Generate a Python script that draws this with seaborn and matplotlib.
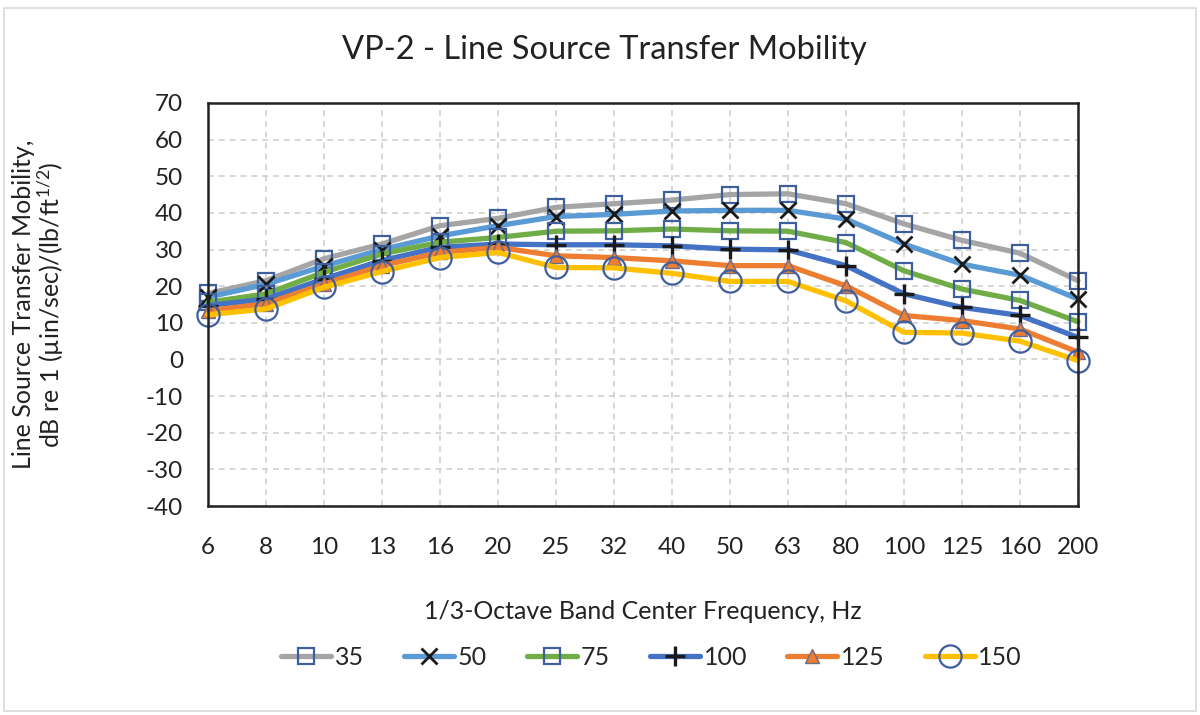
import pandas as pd
import seaborn as sns
import matplotlib.pyplot as plt
from matplotlib.patches import Rectangle

# valeurs (dB), une liste par serie
freqs = ['6', '8', '10', '13', '16', '20', '25', '32', '40', '50', '63', '80', '100', '125', '160', '200']
s35 = [18, 21.5, 27.5, 31.5, 36.5, 38.5, 41.5, 42.5, 43.5, 45, 45.2, 42.5, 37, 32.5, 29, 21.5]
s50 = [17, 20.5, 25.5, 30, 33.7, 36.5, 39, 39.6, 40.5, 40.7, 40.7, 38.3, 31.5, 26, 23, 16.5]
s75 = [15.6, 17.9, 23.8, 28.8, 32, 33.3, 35, 35.1, 35.6, 35.1, 35, 31.9, 24.2, 19.2, 16.1, 10.3]
s100 = [14.7, 16.5, 22, 27, 30.6, 31.5, 31.3, 31.3, 31, 30.1, 29.9, 25.6, 17.9, 14.2, 12, 6]
s125 = [13.3, 15.2, 20.6, 25.6, 29.2, 30.6, 28.3, 27.8, 26.9, 25.6, 25.6, 20.1, 12, 10.6, 8.3, 2]
s150 = [12.2, 13.8, 19.7, 24, 27.8, 29.2, 25.1, 25, 23.5, 21.3, 21.3, 16, 7.4, 7.2, 5, -0.3]
labels = ['35', '50', '75', '100', '125', '150']

series = [s35, s50, s75, s100, s125, s150]
colors = ['#A5A5A5', '#5B9BD5', '#70AD47', '#4472C4', '#ED7D31', '#FFC000']
mk_edge = '#3F5E9C'
# (marker, taille, face, bord, epaisseur bord)
markers = [
    ('s', 12, 'none', mk_edge, 1.6),
    ('x', 12, 'none', '#1A1A1A', 2.0),
    ('s', 12, 'none', mk_edge, 1.6),
    ('+', 15, 'none', '#1A1A1A', 2.4),
    ('^', 10, '#ED7D31', '#6B6B8A', 1.0),
    ('o', 16, 'none', mk_edge, 1.6),
]

sns.set_style("white")
plt.rcParams['font.family'] = ['Lato', 'DejaVu Sans']
plt.rcParams['mathtext.fontset'] = 'custom'
plt.rcParams['mathtext.rm'] = 'Lato'
plt.rcParams['mathtext.it'] = 'Lato:italic'
plt.rcParams['axes.unicode_minus'] = False

fig = plt.figure(figsize=(12, 7.15), dpi=100)
ax = fig.add_axes([0.1733, 0.2923, 0.725, 0.5637])

for vals, lab, col, (m, ms, mfc, mec, mew) in zip(series, labels, colors, markers):
    df = pd.DataFrame({'freq': freqs, 'val': vals})
    sns.lineplot(data=df, x='freq', y='val', ax=ax, color=col, linewidth=3.8,
                 marker=m, markersize=ms, markerfacecolor=mfc, markeredgecolor=mec,
                 markeredgewidth=mew, label=lab, clip_on=False)

ax.set_xlim(0, len(freqs) - 1)
ax.set_ylim(-40, 70)
ax.set_yticks(range(-40, 71, 10))

ax.grid(True, linestyle=(0, (3.5, 3)), color='#CFCFCF', linewidth=1.2)
ax.set_axisbelow(True)
for sp in ax.spines.values():
    sp.set_color('#222222')
    sp.set_linewidth(1.8)
ax.tick_params(axis='both', direction='in', length=5, width=1.5, color='#222222',
               labelsize=17.5, labelcolor='#222222')
ax.tick_params(axis='x', pad=22)
ax.tick_params(axis='y', pad=18)

ax.set_xlabel('1/3-Octave Band Center Frequency, Hz', fontsize=18, color='#222222')
ax.xaxis.set_label_coords(0.5, -0.233)
ax.set_ylabel('Line Source Transfer Mobility,\ndB re 1 (µin/sec)/(lb/ft$^{1/2}$)',
              fontsize=18, color='#222222', linespacing=1.05)
ax.yaxis.set_label_coords(-0.163, 0.5)

fig.text(0.504, 0.93, 'VP-2 - Line Source Transfer Mobility', ha='center', va='center',
         fontsize=23.5, color='#222222')

ax.legend(loc='center', bbox_to_anchor=(0.51, (657 - 506) / -403.0), ncol=6, frameon=False,
          fontsize=18, handlelength=2.0, handletextpad=0.15, columnspacing=1.6)

fig.patches.append(Rectangle((0.003, 0.006), 0.994, 0.983, transform=fig.transFigure,
                             fill=False, edgecolor='#D9D9D9', linewidth=1.2))

plt.savefig('out.png', dpi=100)
